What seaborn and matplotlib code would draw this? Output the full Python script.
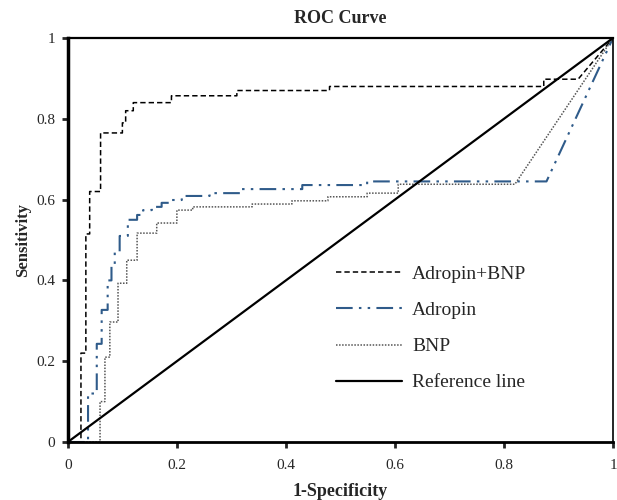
from matplotlib import pyplot as plt
import pandas as pd
import seaborn as sns

# ROC vertices (1-specificity, sensitivity)
combo_fpr = [0, 0.024, 0.024, 0.033, 0.033, 0.040, 0.040, 0.060, 0.060, 0.100, 0.100, 0.106, 0.106,
             0.120, 0.120, 0.190, 0.190, 0.310, 0.310, 0.480, 0.480, 0.873, 0.873, 0.936, 1.0]
combo_tpr = [0, 0, 0.220, 0.220, 0.515, 0.515, 0.620, 0.620, 0.765, 0.765, 0.790, 0.790, 0.820,
             0.820, 0.840, 0.840, 0.857, 0.857, 0.870, 0.870, 0.880, 0.880, 0.898, 0.898, 1.0]

adropin_fpr = [0, 0.037, 0.037, 0.053, 0.053, 0.062, 0.062, 0.073, 0.073, 0.080, 0.080, 0.086, 0.086,
               0.095, 0.095, 0.110, 0.110, 0.127, 0.127, 0.138, 0.138, 0.154, 0.154, 0.172, 0.172,
               0.187, 0.187, 0.209, 0.209, 0.260, 0.260, 0.316, 0.316, 0.430, 0.430, 0.549, 0.549,
               0.878, 1.0]
adropin_tpr = [0, 0, 0.120, 0.120, 0.243, 0.243, 0.327, 0.327, 0.400, 0.400, 0.440, 0.440, 0.470,
               0.470, 0.510, 0.510, 0.550, 0.550, 0.562, 0.562, 0.574, 0.574, 0.582, 0.582, 0.592,
               0.592, 0.599, 0.599, 0.609, 0.609, 0.616, 0.616, 0.626, 0.626, 0.636, 0.636, 0.645,
               0.645, 1.0]

bnp_fpr = [0, 0.059, 0.059, 0.068, 0.068, 0.077, 0.077, 0.092, 0.092, 0.108, 0.108, 0.127, 0.127,
           0.163, 0.163, 0.200, 0.200, 0.229, 0.229, 0.338, 0.338, 0.411, 0.411, 0.477, 0.477,
           0.549, 0.549, 0.606, 0.606, 0.820, 1.0]
bnp_tpr = [0, 0, 0.100, 0.100, 0.210, 0.210, 0.297, 0.297, 0.393, 0.393, 0.450, 0.450, 0.517,
           0.517, 0.542, 0.542, 0.574, 0.574, 0.582, 0.582, 0.589, 0.589, 0.597, 0.597, 0.607,
           0.607, 0.616, 0.616, 0.638, 0.638, 1.0]

ref_x = [0, 1]
ref_y = [0, 1]

ticks = [0, 0.2, 0.4, 0.6, 0.8, 1]
tick_labels = ['0', '0.2', '0.4', '0.6', '0.8', '1']

sns.set_style("white")
plt.rcParams['font.family'] = ['Liberation Serif', 'DejaVu Serif']

fig = plt.figure(figsize=(6.17, 5.0), dpi=100)
ax = fig.add_axes([0.110, 0.116, 0.8835, 0.808])

# Combined model
sns.lineplot(x=combo_fpr, y=combo_tpr, sort=False, estimator=None, ax=ax,
             color='black', linewidth=1.1, linestyle=(0, (3.5, 2)), label='Adropin+BNP')
# Adropin
sns.lineplot(x=adropin_fpr, y=adropin_tpr, sort=False, estimator=None, ax=ax,
             color='#2f5b8a', linewidth=1.5, linestyle=(0, (8, 3, 1.2, 3, 1.2, 3)), label='Adropin')
# BNP
sns.lineplot(x=bnp_fpr, y=bnp_tpr, sort=False, estimator=None, ax=ax,
             color='#555555', linewidth=1.1, linestyle=(0, (1, 1)), label='BNP')
# Diagonal reference
sns.lineplot(x=ref_x, y=ref_y, sort=False, estimator=None, ax=ax,
             color='black', linewidth=1.6, label='Reference line')

ax.set_xlim(0, 1)
ax.set_ylim(0, 1)
ax.set_xticks(ticks)
ax.set_xticklabels(tick_labels)
ax.set_yticks(ticks)
ax.set_yticklabels(tick_labels)
ax.tick_params(axis='both', which='major', direction='out', length=4, width=2,
               labelsize=11, bottom=True, left=True)
ax.tick_params(axis='x', pad=8)
ax.tick_params(axis='y', pad=5)

# Frame: heavy on the left and bottom
ax.spines['left'].set_linewidth(2.5)
ax.spines['bottom'].set_linewidth(2.0)
ax.spines['top'].set_linewidth(1.6)
ax.spines['right'].set_linewidth(1.2)
for s in ax.spines.values():
    s.set_color('black')

ax.set_title('ROC Curve', fontsize=13, fontweight='bold', pad=11)
ax.set_xlabel('1-Specificity', fontsize=13, fontweight='bold', labelpad=8)
ax.set_ylabel('Sensitivity', fontsize=12, fontweight='bold', labelpad=4)

leg = ax.legend(loc='upper left', bbox_to_anchor=(0.46, 0.48), frameon=False,
                fontsize=14, handlelength=3.4, handletextpad=0.5, labelspacing=0.95)

plt.savefig('out.png', dpi=100)
